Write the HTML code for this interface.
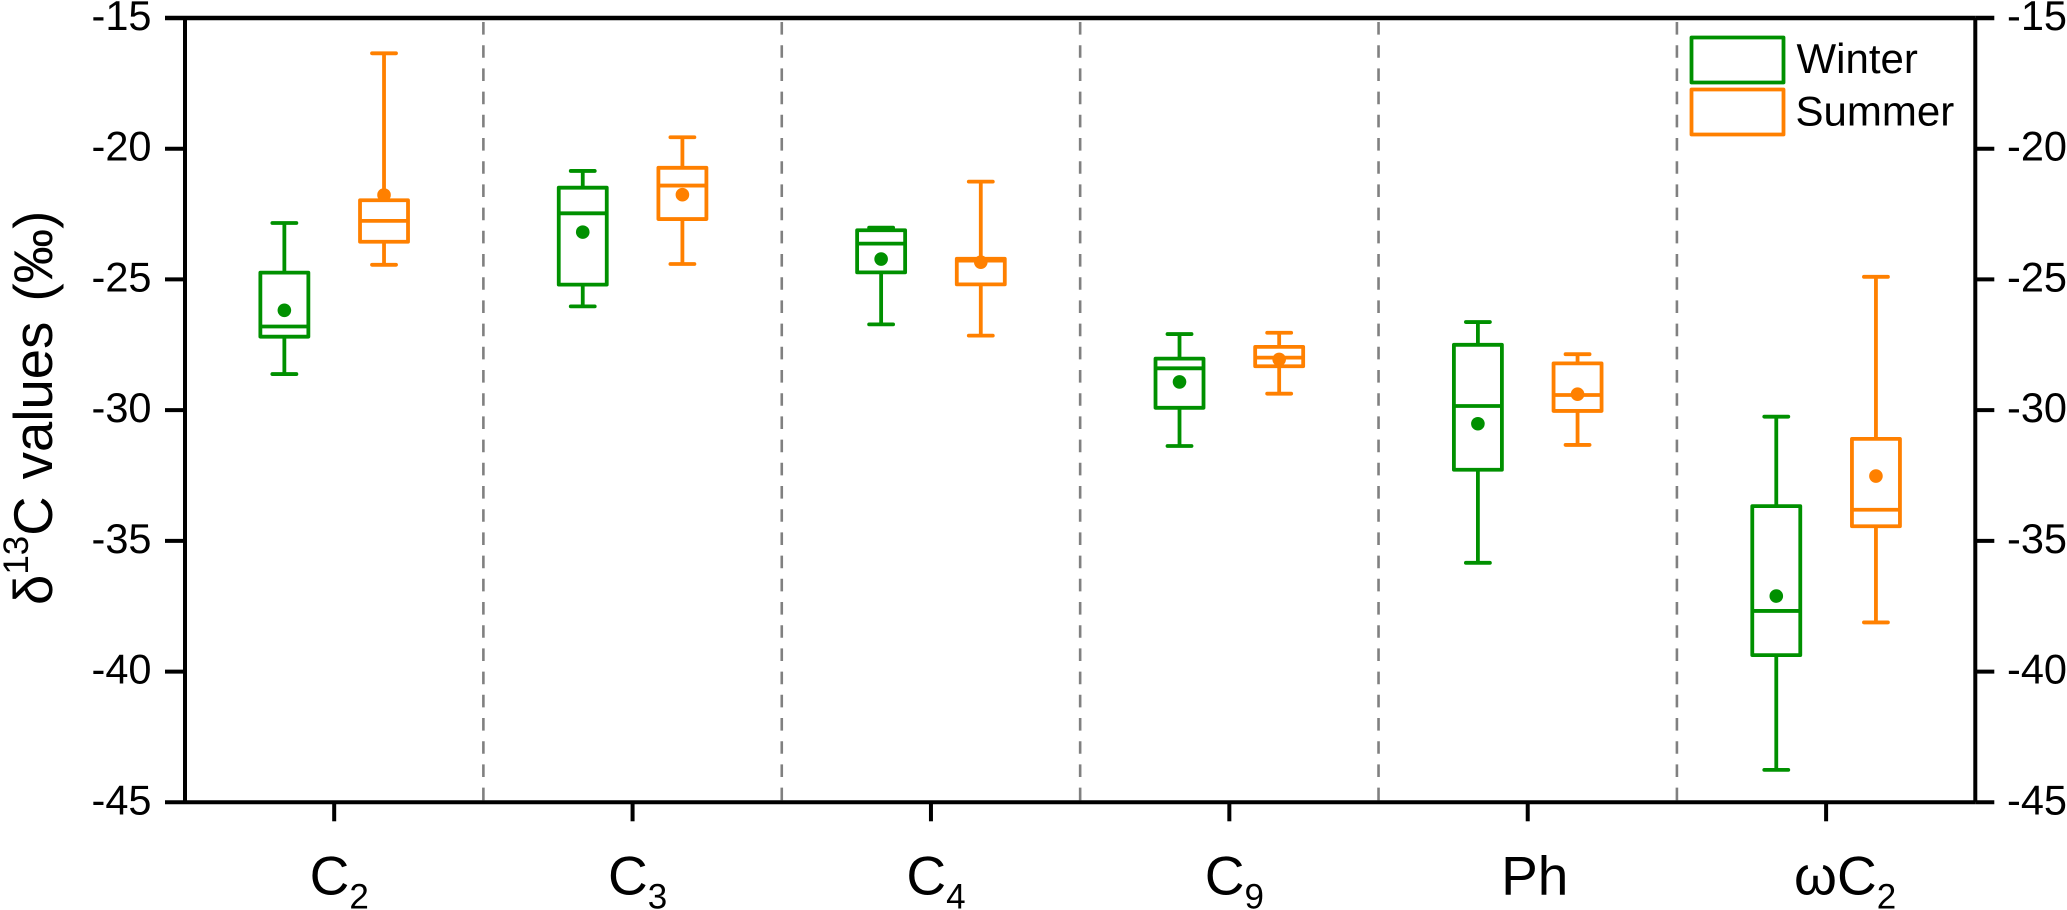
<!DOCTYPE html>
<html lang="en">
<head>
<meta charset="utf-8">
<title>δ13C values box chart</title>
<style>
html,body{margin:0;padding:0;background:#fff;}
svg{display:block;font-family:"Liberation Sans",Arial,sans-serif;}
</style>
</head>
<body>
<svg id="chart" xmlns="http://www.w3.org/2000/svg" width="2067" height="910" viewBox="0 0 2067 910">
  <rect x="0" y="0" width="2067" height="910" fill="#ffffff"/>
  <g id="separators"></g>
  <g id="boxes"></g>
  <g id="axes"></g>
  <text transform="translate(52,605) rotate(-90)" font-size="54.5" fill="#000">δ<tspan dy="-24" font-size="35">13</tspan><tspan dy="24">C</tspan><tspan dx="2"> values</tspan><tspan dx="5"> (‰)</tspan></text>
  <g>
    <rect x="1691.5" y="37.5" width="92" height="45" fill="none" stroke="#009000" stroke-width="3.8" stroke-linejoin="round"/>
    <text x="1796.5" y="73" font-size="42" fill="#000">Winter</text>
    <rect x="1691.5" y="89.5" width="92" height="45" fill="none" stroke="#ff8000" stroke-width="3.8" stroke-linejoin="round"/>
    <text x="1795.5" y="125.5" font-size="42" fill="#000">Summer</text>
  </g>
</svg>
<script>
const categories = ["C", "C", "C", "C", "Ph", "ωC"];
const categorySubscripts = ["2", "3", "4", "9", "", "2"];
const yTicks = [-15, -20, -25, -30, -35, -40, -45];
const yTickLabels = ["-15", "-20", "-25", "-30", "-35", "-40", "-45"];

const winterWhiskerHigh = [-22.84, -20.85, -23.02, -27.09, -26.63, -30.25];
const winterQ3 = [-24.74, -21.49, -23.12, -28.03, -27.50, -33.67];
const winterMedian = [-26.80, -22.47, -23.63, -28.40, -29.84, -37.68];
const winterQ1 = [-27.19, -25.20, -24.73, -29.91, -32.28, -39.37];
const winterWhiskerLow = [-28.62, -26.03, -26.72, -31.37, -35.84, -43.76];
const winterMean = [-26.18, -23.19, -24.22, -28.92, -30.52, -37.11];

const summerWhiskerHigh = [-16.35, -19.56, -21.26, -27.04, -27.86, -24.90];
const summerQ3 = [-21.97, -20.73, -24.21, -27.58, -28.21, -31.10];
const summerMedian = [-22.76, -21.41, -24.28, -27.99, -29.42, -33.81];
const summerQ1 = [-23.56, -22.69, -25.19, -28.32, -30.03, -34.44];
const summerWhiskerLow = [-24.44, -24.41, -27.15, -29.37, -31.33, -38.12];
const summerMean = [-21.77, -21.76, -24.34, -28.06, -29.39, -32.52];

const SVGNS = "http://www.w3.org/2000/svg";
const plotLeft = 185, plotRight = 1975.3, plotTop = 18, plotBottom = 802.3;
const GREEN = "#009000", ORANGE = "#ff8000";

function xScale(pos) {
  return plotLeft + (pos - 0.5) / 6 * (plotRight - plotLeft);
}
function yScale(v) {
  return plotTop + (-15 - v) / 30 * (plotBottom - plotTop);
}
function make(tag, parent, props) {
  const el = document.createElementNS(SVGNS, tag);
  for (const k in props) {
    el.setAttribute(k, props[k]);
  }
  parent.appendChild(el);
  return el;
}

const sepLayer = document.getElementById("separators");
for (let i = 1; i < categories.length; i++) {
  const sx = xScale(i + 0.5);
  const sep = make("line", sepLayer, {x1: sx, x2: sx, y1: 22, y2: plotBottom, stroke: "#808080", "stroke-width": 2.6, "stroke-dasharray": "12.6 10.6"});
  
  
}

function drawSeries(seriesName, color, offset, high, q3, median, q1, low, mean) {
  const layer = document.getElementById("boxes");
  for (let i = 0; i < categories.length; i++) {
    const cx = xScale(i + 1 + offset);
    const g = make("g", layer, {fill: "none", stroke: color, "stroke-width": 3.8});
    
    

    const whisker = make("line", g, {x1: cx, x2: cx, y1: yScale(high[i]), y2: yScale(low[i])});
    
    

    const capTop = make("line", g, {x1: cx - 12, x2: cx + 12, y1: yScale(high[i]), y2: yScale(high[i]), "stroke-linecap": "round"});
    
    

    const capBottom = make("line", g, {x1: cx - 12, x2: cx + 12, y1: yScale(low[i]), y2: yScale(low[i]), "stroke-linecap": "round"});
    
    

    const box = make("rect", g, {x: cx - 24, width: 48, y: yScale(q3[i]), height: yScale(q1[i]) - yScale(q3[i]), fill: "#ffffff", "stroke-linejoin": "round"});
    
    

    const med = make("line", g, {x1: cx - 24, x2: cx + 24, y1: yScale(median[i]), y2: yScale(median[i])});
    
    

    const dot = make("circle", g, {cx: cx, cy: yScale(mean[i]), r: 6.8, fill: color, stroke: "none"});
    
    
  }
}
drawSeries("winter", GREEN, -0.167, winterWhiskerHigh, winterQ3, winterMedian, winterQ1, winterWhiskerLow, winterMean);
drawSeries("summer", ORANGE, 0.167, summerWhiskerHigh, summerQ3, summerMedian, summerQ1, summerWhiskerLow, summerMean);

const axes = document.getElementById("axes");
const leftAxis = make("line", axes, {x1: plotLeft, x2: plotLeft, y1: plotTop, y2: plotBottom, stroke: "#000", "stroke-width": 4});


const rightAxis = make("line", axes, {x1: plotRight, x2: plotRight, y1: plotTop, y2: plotBottom, stroke: "#000", "stroke-width": 4});



yTicks.forEach(function (t, i) {
  const y = yScale(t);
  const width = i === 0 ? 4.6 : 4;
  const tl = make("line", axes, {x1: plotLeft - 20, x2: plotLeft, y1: y, y2: y, stroke: "#000", "stroke-width": width});
  
  
  const tr = make("line", axes, {x1: plotRight, x2: plotRight + 19, y1: y, y2: y, stroke: "#000", "stroke-width": width});
  
  
  const ll = make("text", axes, {x: 151.5, y: y + 12, "font-size": 41.5, "text-anchor": "end", fill: "#000"});
  ll.textContent = yTickLabels[i];
  
  
  const lr = make("text", axes, {x: 2007, y: y + 12, "font-size": 41.5, fill: "#000"});
  lr.textContent = yTickLabels[i];
  
  
});

const topLine = make("line", axes, {x1: plotLeft, x2: plotRight, y1: plotTop, y2: plotTop, stroke: "#000", "stroke-width": 4.6});


const bottomLine = make("line", axes, {x1: plotLeft, x2: plotRight, y1: plotBottom, y2: plotBottom, stroke: "#000", "stroke-width": 4});



categories.forEach(function (c, i) {
  const x = xScale(i + 1);
  const tick = make("line", axes, {x1: x, x2: x, y1: plotBottom, y2: plotBottom + 19, stroke: "#000", "stroke-width": 4});
  
  
  const nudge = c === "ωC" ? 19 : (c === "Ph" ? 7 : 5);
  const label = make("text", axes, {x: x + nudge, y: 894.5, "font-size": 55, "text-anchor": "middle", fill: "#000"});
  
  
  const main = make("tspan", label, {});
  main.textContent = c;
  if (categorySubscripts[i]) {
    const sub = make("tspan", label, {dy: 14, "font-size": 35});
    sub.textContent = categorySubscripts[i];
  }
});
</script>
</body>
</html>
